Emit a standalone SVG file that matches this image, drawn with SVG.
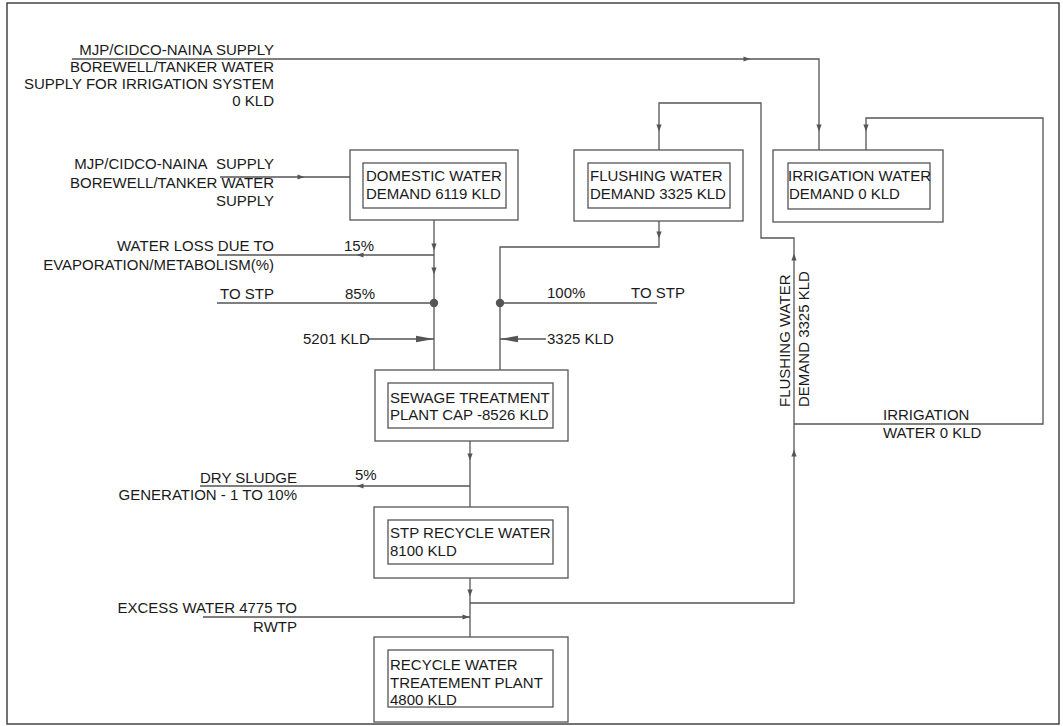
<svg xmlns="http://www.w3.org/2000/svg" xmlns:xlink="http://www.w3.org/1999/xlink" width="1063" height="726" viewBox="0 0 1063 726">
<style>
.t{font-family:"Liberation Sans",Arial,sans-serif;font-size:15px;fill:#1a1a1a}
.r{text-anchor:end}
.ln{fill:none;stroke:#555;stroke-width:1.3}
.box{fill:none;stroke:#555;stroke-width:1.3}
.ah{fill:#555}
</style>
<defs>
<path id="sa" d="M3.5,0 L-3.5,-2.6 L-3.5,2.6 Z" class="ah"/>
<path id="ba" d="M0,0 L-18,-3.2 L-18,3.2 Z" class="ah"/>
</defs>
<rect x="7" y="3" width="1052" height="721" fill="#fff" stroke="#444" stroke-width="1.5"/>

<g id="connectors">
<path class="ln" d="M72,59 H819 V150"/>
<use href="#sa" transform="translate(747,59)"/>
<use href="#sa" transform="translate(819,128) rotate(90)"/>
<path class="ln" d="M220,177 H350"/>
<use href="#sa" transform="translate(301,177)"/>
<path class="ln" d="M434,220 V370"/>
<use href="#sa" transform="translate(434,247) rotate(90)"/>
<use href="#sa" transform="translate(434,271) rotate(90)"/>
<path class="ln" d="M217,255 H434"/>
<use href="#sa" transform="translate(360,255) rotate(180)"/>
<path class="ln" d="M217,303 H434"/>
<circle cx="434" cy="303" r="4.2" class="ah"/>
<path class="ln" d="M368,339 H434"/>
<use href="#ba" transform="translate(434,339)"/>
<path class="ln" d="M659,221 V247 H500 V370"/>
<use href="#sa" transform="translate(659,235) rotate(90)"/>
<path class="ln" d="M500,303 H657"/>
<circle cx="500" cy="303" r="4.2" class="ah"/>
<path class="ln" d="M500,339 H546"/>
<use href="#ba" transform="translate(500,339) rotate(180)"/>
<path class="ln" d="M470,441 V507"/>
<use href="#sa" transform="translate(470,457) rotate(90)"/>
<path class="ln" d="M200,486 H470"/>
<use href="#sa" transform="translate(360,486) rotate(180)"/>
<path class="ln" d="M470,578 V637"/>
<use href="#sa" transform="translate(470,593) rotate(90)"/>
<path class="ln" d="M203,617 H470"/>
<use href="#sa" transform="translate(466,617)"/>
<path class="ln" d="M470,603 H794 V238 H761 V103 H659 V150"/>
<use href="#sa" transform="translate(659,128) rotate(90)"/>
<use href="#sa" transform="translate(794,453) rotate(-90)"/>
<use href="#sa" transform="translate(794,257) rotate(-90)"/>
<path class="ln" d="M794,424 H1043 V118 H866 V150"/>
<use href="#sa" transform="translate(866,128) rotate(90)"/>
</g>

<g id="labels">
<text class="t r" x="274" y="55">MJP/CIDCO-NAINA SUPPLY</text>
<text class="t r" x="274" y="72">BOREWELL/TANKER WATER</text>
<text class="t r" x="274" y="89">SUPPLY FOR IRRIGATION SYSTEM</text>
<text class="t r" x="274" y="106">0 KLD</text>
<text class="t r" x="274" y="169">MJP/CIDCO-NAINA&#160; SUPPLY</text>
<text class="t r" x="274" y="188">BOREWELL/TANKER WATER</text>
<text class="t r" x="274" y="206">SUPPLY</text>
<text class="t r" x="274" y="251">WATER LOSS DUE TO</text>
<text class="t r" x="274" y="270">EVAPORATION/METABOLISM(%)</text>
<text class="t" x="344" y="251">15%</text>
<text class="t r" x="274" y="299">TO STP</text>
<text class="t" x="345" y="299">85%</text>
<text class="t" x="303" y="344">5201 KLD</text>
<text class="t" x="547" y="298">100%</text>
<text class="t" x="631" y="298">TO STP</text>
<text class="t" x="547" y="344">3325 KLD</text>
<text class="t" transform="translate(790,407) rotate(-90)">FLUSHING WATER</text>
<text class="t" transform="translate(809,407) rotate(-90)">DEMAND 3325 KLD</text>
<text class="t" x="883" y="420">IRRIGATION</text>
<text class="t" x="883" y="438">WATER 0 KLD</text>
<text class="t r" x="297" y="483">DRY SLUDGE</text>
<text class="t r" x="297" y="500">GENERATION - 1 TO 10%</text>
<text class="t" x="355" y="480">5%</text>
<text class="t r" x="297" y="613">EXCESS WATER 4775 TO</text>
<text class="t r" x="297" y="632">RWTP</text>
</g>

<g id="domestic">
<rect class="box" x="350" y="150" width="168" height="70"/>
<rect class="box" x="363" y="163" width="143" height="45"/>
<text class="t" x="366" y="181">DOMESTIC WATER</text>
<text class="t" x="366" y="199">DEMAND 6119 KLD</text>
</g>
<g id="flushing">
<rect class="box" x="574" y="150" width="169" height="71"/>
<rect class="box" x="588" y="163" width="142" height="45"/>
<text class="t" x="590" y="181">FLUSHING WATER</text>
<text class="t" x="590" y="199">DEMAND 3325 KLD</text>
</g>
<g id="irrigation">
<rect class="box" x="773" y="150" width="170" height="72"/>
<rect class="box" x="788" y="163" width="142" height="46"/>
<text class="t" x="788" y="181">IRRIGATION WATER</text>
<text class="t" x="789" y="199">DEMAND 0 KLD</text>
</g>
<g id="stp">
<rect class="box" x="375" y="370" width="193" height="71"/>
<rect class="box" x="388" y="383" width="165" height="45"/>
<text class="t" x="390" y="403">SEWAGE TREATMENT</text>
<text class="t" x="390" y="420">PLANT CAP -8526 KLD</text>
</g>
<g id="stp-recycle">
<rect class="box" x="374" y="507" width="194" height="71"/>
<rect class="box" x="388" y="520" width="165" height="44"/>
<text class="t" x="390" y="538">STP RECYCLE WATER</text>
<text class="t" x="390" y="556">8100 KLD</text>
</g>
<g id="rwtp">
<rect class="box" x="374" y="637" width="194" height="85"/>
<rect class="box" x="388" y="650" width="165" height="57"/>
<text class="t" x="390" y="670">RECYCLE WATER</text>
<text class="t" x="390" y="688">TREATEMENT PLANT</text>
<text class="t" x="390" y="705">4800 KLD</text>
</g>
</svg>
